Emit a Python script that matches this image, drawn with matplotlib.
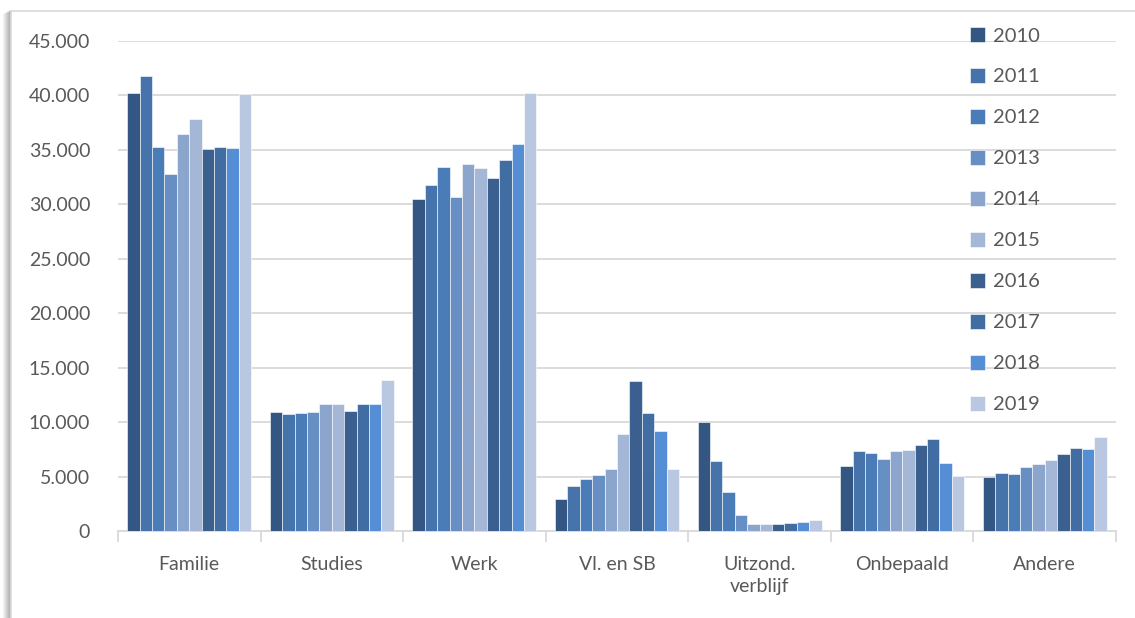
import matplotlib
matplotlib.use("Agg")
import matplotlib.pyplot as plt
import numpy as np
from matplotlib.patches import Rectangle
from matplotlib.lines import Line2D

categories = ["Familie", "Studies", "Werk", "Vl. en SB", "Uitzond.\nverblijf", "Onbepaald", "Andere"]
years = ["2010", "2011", "2012", "2013", "2014", "2015", "2016", "2017", "2018", "2019"]

# values per year, one value per category
v2010 = [40200, 10900, 30500, 2970, 9980, 5940, 4960]
v2011 = [41800, 10700, 31800, 4130, 6430, 7370, 5330]
v2012 = [35300, 10800, 33400, 4780, 3600, 7130, 5260]
v2013 = [32800, 10960, 30700, 5110, 1500, 6610, 5850]
v2014 = [36500, 11700, 33700, 5720, 670, 7320, 6150]
v2015 = [37800, 11660, 33300, 8900, 610, 7440, 6550]
v2016 = [35100, 11000, 32400, 13800, 610, 7930, 7100]
v2017 = [35300, 11700, 34100, 10800, 700, 8420, 7620]
v2018 = [35200, 11700, 35500, 9150, 800, 6210, 7500]
v2019 = [40100, 13900, 40200, 5660, 980, 5050, 8630]
series = [v2010, v2011, v2012, v2013, v2014, v2015, v2016, v2017, v2018, v2019]

colors = ["#335682", "#4673aa", "#4a7db8", "#678fc4", "#8ba5cd",
          "#a5b7d7", "#3b5f8f", "#426da2", "#558ed5", "#bac7e1"]

plt.rcParams['font.family'] = ['Lato', 'DejaVu Sans']
txt = "#595959"
grid = "#d9d9d9"

W, H = 1135, 618
fig = plt.figure(figsize=(W / 100, H / 100), dpi=100)

# chart frame with a soft shadow on the left
for i, a in enumerate(np.linspace(0.03, 0.25, 8)):
    fig.add_artist(Line2D([(3 + i) / W, (3 + i) / W], [0, 1 - (14 - i * 0.5) / H],
                          transform=fig.transFigure, color="black", alpha=a, lw=1, zorder=-20))
fig.add_artist(Rectangle((11 / W, -0.1), 1.2, 1 - 11 / H + 0.1, transform=fig.transFigure,
                         facecolor="white", edgecolor=grid, lw=1.2, zorder=-10))

ax = fig.add_axes([118 / W, 87 / H, (1116 - 118) / W, 490 / H])
ax.set_facecolor("none")
ax.set_zorder(5)

n = len(series)
group = 0.87
bw = group / n
x = np.arange(len(categories))
for k, (vals, c, yr) in enumerate(zip(series, colors, years)):
    ax.bar(x - group / 2 + bw * (k + 0.5), vals, width=bw, color=c, label=yr,
           edgecolor="#ffffff", linewidth=0.4, zorder=3)

ax.set_xlim(-0.5, len(categories) - 0.5)
ax.set_ylim(0, 45000)
ax.set_yticks(np.arange(0, 45001, 5000))
ax.set_yticklabels([f"{int(v):,}".replace(",", ".") for v in np.arange(0, 45001, 5000)])
ax.yaxis.grid(True, color=grid, lw=1.3, zorder=0)
ax.set_axisbelow(True)
ax.tick_params(axis="y", length=0, pad=20, labelsize=14, labelcolor=txt)
ax.set_xticks(x)
ax.set_xticklabels(categories, linespacing=1.35)
ax.tick_params(axis="x", which="major", length=0, pad=18, labelsize=14, labelcolor=txt)
ax.set_xticks(np.arange(-0.5, len(categories), 1), minor=True)
ax.tick_params(axis="x", which="minor", length=8, color=grid, width=1.3)
for s in ["top", "right", "left"]:
    ax.spines[s].set_visible(False)
ax.spines["bottom"].set_color(grid)
ax.spines["bottom"].set_linewidth(1.3)

leg = ax.legend(loc="upper left", bbox_to_anchor=(952 / W, 1 - 9 / H), bbox_transform=fig.transFigure,
                frameon=False, handlelength=0.75, handleheight=0.75, handletextpad=0.4,
                labelspacing=1.17, fontsize=14.5, labelcolor=txt)

fig.savefig("out.png", dpi=100)
